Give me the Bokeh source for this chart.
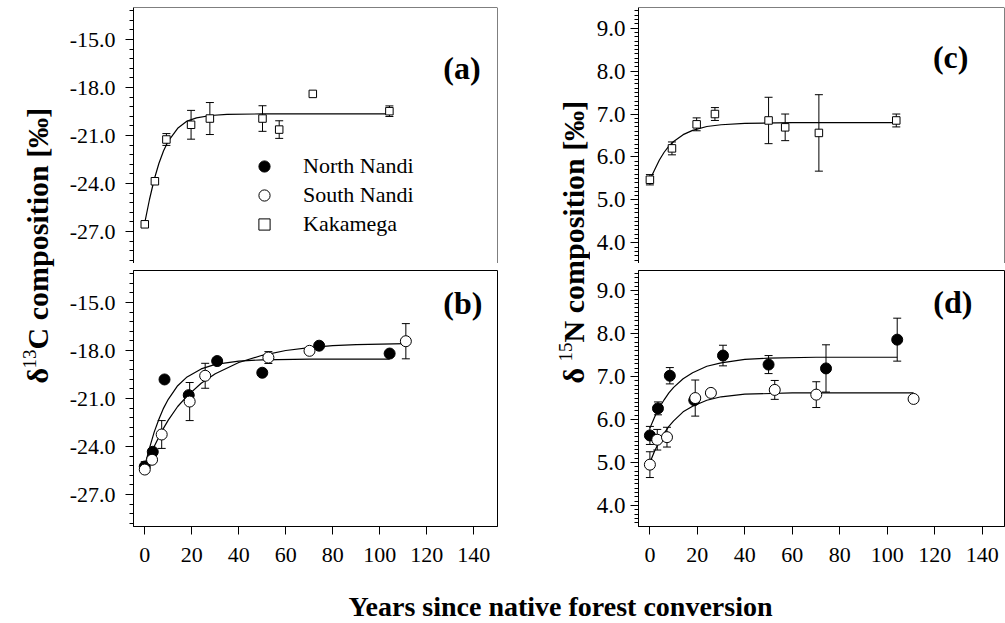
import numpy as np
from bokeh.plotting import figure
from bokeh.models import (Range1d, FixedTicker, NumeralTickFormatter, Whisker, TeeHead,
                          ColumnDataSource, Label, Legend, LegendItem, Span)
from bokeh.layouts import row, column
from bokeh.embed import file_html
from bokeh.resources import INLINE

SERIF = "Liberation Serif"

# ---------------- data ----------------
# Panel (a): Kakamega, delta13C
kak_c_years = [0, 4.3, 9.2, 19.7, 27.7, 50.1, 57.2, 71.5, 104.1]
kak_d13c = [-26.55, -23.86, -21.25, -20.33, -19.94, -19.94, -20.63, -18.4, -19.48]
kak_d13c_err = [0, 0, 0.37, 0.9, 1.0, 0.8, 0.55, 0, 0.33]
kak_d13c_fit_x = [0, 2, 4, 6, 8, 10, 14, 18, 22, 28, 35, 50, 104.1]
kak_d13c_fit_y = [-26.45, -25.0, -23.75, -22.75, -21.95, -21.35, -20.55, -20.1, -19.9,
                  -19.75, -19.68, -19.65, -19.65]

# Panel (b): North Nandi / South Nandi, delta13C
nn_years = [0, 3.4, 8.4, 18.7, 30.8, 50.0, 74.2, 104.2]
nn_d13c = [-25.25, -24.33, -19.81, -20.79, -18.66, -19.39, -17.7, -18.19]
nn_d13c_err = [0.3, 0, 0, 0, 0, 0, 0, 0]
nn_d13c_fit_x = [0, 2, 4, 6, 8, 10, 14, 18, 24, 30, 40, 50, 70, 104.2]
nn_d13c_fit_y = [-25.2, -24.1, -23.1, -22.3, -21.6, -21.05, -20.2, -19.65, -19.15, -18.87,
                 -18.66, -18.58, -18.54, -18.54]

sn_years = [0, 3.1, 7.2, 19.1, 25.7, 52.6, 70.1, 111.1]
sn_d13c = [-25.44, -24.83, -23.25, -21.19, -19.58, -18.44, -18.02, -17.42]
sn_d13c_err = [0.2, 0, 0.87, 1.19, 0.78, 0.37, 0, 1.1]
sn_d13c_fit_x = [0, 2, 4, 6, 8, 10, 14, 18, 24, 30, 40, 50, 60, 70, 80, 90, 111.1]
sn_d13c_fit_y = [-25.4, -24.7, -24.0, -23.4, -22.85, -22.35, -21.5, -20.85, -20.05, -19.45,
                 -18.75, -18.3, -18.0, -17.82, -17.7, -17.63, -17.57]

# Panel (c): Kakamega, delta15N
kak_n_years = [0, 9.3, 19.7, 27.4, 50.0, 57.0, 71.2, 103.8]
kak_d15n = [5.47, 6.2, 6.76, 7.0, 6.85, 6.69, 6.56, 6.85]
kak_d15n_err = [0.12, 0.15, 0.15, 0.15, 0.54, 0.31, 0.89, 0.15]
kak_d15n_fit_x = [0, 2, 4, 6, 8, 10, 14, 18, 24, 30, 40, 60, 103.8]
kak_d15n_fit_y = [5.47, 5.7, 5.93, 6.11, 6.25, 6.36, 6.52, 6.62, 6.71, 6.75, 6.78, 6.8, 6.8]

# Panel (d): North Nandi / South Nandi, delta15N
nn_d15n = [5.63, 6.26, 7.02, 6.45, 7.49, 7.28, 7.19, 7.86]
nn_d15n_err = [0.21, 0.15, 0.19, 0, 0.24, 0.21, 0.55, 0.5]
nn_d15n_fit_x = [0, 2, 4, 6, 8, 10, 14, 18, 24, 30, 40, 50, 70, 104.2]
nn_d15n_fit_y = [5.8, 6.06, 6.28, 6.46, 6.62, 6.75, 6.95, 7.09, 7.24, 7.32, 7.4, 7.43, 7.45, 7.45]

sn_d15n = [4.95, 5.53, 5.59, 6.5, 6.62, 6.69, 6.58, 6.48]
sn_d15n_err = [0.3, 0.24, 0.23, 0.42, 0.08, 0.22, 0.3, 0]
sn_d15n_fit_x = [0, 2, 4, 6, 8, 10, 14, 18, 24, 30, 40, 60, 111.1]
sn_d15n_fit_y = [5.0, 5.27, 5.49, 5.68, 5.84, 5.97, 6.18, 6.31, 6.45, 6.53, 6.59, 6.62, 6.62]

x_ticks = [0, 20, 40, 60, 80, 100, 120, 140]
c_ticks = [-27, -24, -21, -18, -15]
n_ticks = [4, 5, 6, 7, 8, 9]
series_names = ["North Nandi", "South Nandi", "Kakamega"]
panel_tags = ["(a)", "(b)", "(c)", "(d)"]
x_title = "Years since native forest conversion"

# ---------------- styling helpers ----------------
BOTTOM = 55          # border below the lower panels
TOP_H = 263 + 7 + 256 + BOTTOM
LAB_R_W = 83
RIGHT_LEFT = 48


def make_panel(xr, yr, yticks, yminor, *, left, right, top, bottom, fw, show_x, outline,
               yfont, ystand):
    p = figure(title=None, frame_width=fw, frame_height=256, x_range=xr, y_range=yr,
               min_border_left=left, min_border_right=right, min_border_top=top,
               min_border_bottom=bottom, toolbar_location=None, output_backend="svg",
               x_axis_location="below" if show_x else None,
               background_fill_color="white", border_fill_color="white")
    p.grid.visible = False
    p.outline_line_color = "black" if outline else None
    p.outline_line_width = 1
    ya = p.yaxis[0]
    ya.ticker = FixedTicker(ticks=yticks, minor_ticks=yminor)
    ya.formatter = NumeralTickFormatter(format="0.0")
    axes = [ya]
    if show_x:
        xa = p.xaxis[0]
        xa.ticker = FixedTicker(ticks=x_ticks, minor_ticks=[])
        xa.major_label_standoff = 13
        xa.major_label_text_font_size = "22px"
        axes.append(xa)
    for a in axes:
        a.axis_line_color = "black"
        a.axis_line_width = 1
        a.major_tick_in = 0
        a.major_tick_out = 8
        a.minor_tick_in = 0
        a.minor_tick_out = 4
        a.major_tick_line_color = "black"
        a.minor_tick_line_color = "black"
        a.major_label_text_font = SERIF
        a.major_label_text_color = "black"
    ya.major_label_text_font_size = yfont
    ya.major_label_standoff = ystand
    return p


def add_series(p, xs, ys, errs, fit_x, fit_y, marker, fill, size):
    p.line(fit_x, fit_y, line_color="black", line_width=1.2)
    keep = [i for i, e in enumerate(errs) if e > 0]
    src = ColumnDataSource(dict(
        x=[xs[i] for i in keep],
        upper=[ys[i] + errs[i] for i in keep],
        lower=[ys[i] - errs[i] for i in keep]))
    w = Whisker(source=src, base="x", upper="upper", lower="lower",
                line_color="black", line_width=1,
                upper_head=TeeHead(size=8, line_color="black", line_width=1),
                lower_head=TeeHead(size=8, line_color="black", line_width=1))
    p.add_layout(w)
    return p.scatter(xs, ys, marker=marker, size=size, fill_color=fill,
                     line_color="black", line_width=1)


def tag(p, text, x, y):
    p.add_layout(Label(x=x, y=y, text=text, text_font=SERIF, text_font_style="bold",
                       text_font_size="32px", text_align="right", text_baseline="middle",
                       text_color="black"))


c_minor = list(np.round(np.arange(-28.8, -13.1, 0.6), 2))
n_minor = list(np.round(np.arange(3.6, 9.45, 0.1), 2))

# ---------------- panels ----------------
pa = make_panel(Range1d(-4.8, 150.1), Range1d(-29, -13), c_ticks, c_minor,
                left=71, right=10, top=7, bottom=0, fw=364, show_x=False, outline=False,
                yfont="22px", ystand=10)
pa.add_layout(Span(location=-13, dimension="width", line_color="black", line_width=1))
pa.add_layout(Span(location=150.1, dimension="height", line_color="black", line_width=1))
r_kk = add_series(pa, kak_c_years, kak_d13c, kak_d13c_err, kak_d13c_fit_x, kak_d13c_fit_y,
                  "square", "white", 7.5)
tag(pa, panel_tags[0], 142.9, -16.8)
# legend keys: the Nandi series drawn on a range far outside panel (a)'s frame
pa.extra_y_ranges = {"keys": Range1d(1000, 1001)}
r_nn = pa.scatter(nn_years, nn_d13c, marker="circle", size=11, fill_color="black",
                  line_color="black", y_range_name="keys")
r_sn = pa.scatter(sn_years, sn_d13c, marker="circle", size=11, fill_color="white",
                  line_color="black", y_range_name="keys")
leg = Legend(items=[LegendItem(label=series_names[0], renderers=[r_nn], index=0),
                    LegendItem(label=series_names[1], renderers=[r_sn], index=0),
                    LegendItem(label=series_names[2], renderers=[r_kk], index=0)],
             location=(116, 25), border_line_color=None, background_fill_alpha=0,
             label_text_font=SERIF, label_text_font_size="22px", label_text_color="black",
             glyph_width=30, glyph_height=28, label_height=28, spacing=1, padding=0,
             margin=0, label_standoff=24)
pa.add_layout(leg)

pb = make_panel(Range1d(-4.8, 150.1), Range1d(-29, -13), c_ticks, c_minor,
                left=71, right=10, top=7, bottom=BOTTOM, fw=364, show_x=True, outline=True,
                yfont="22px", ystand=10)
add_series(pb, nn_years, nn_d13c, nn_d13c_err, nn_d13c_fit_x, nn_d13c_fit_y,
           "circle", "black", 11)
add_series(pb, sn_years, sn_d13c, sn_d13c_err, sn_d13c_fit_x, sn_d13c_fit_y,
           "circle", "white", 11)
tag(pb, panel_tags[1], 143.7, -15.0)

pc = make_panel(Range1d(-4.8, 149.4), Range1d(3.52, 9.48), n_ticks, n_minor,
                left=RIGHT_LEFT, right=1, top=7, bottom=0, fw=366, show_x=False,
                outline=False, yfont="23px", ystand=5)
pc.add_layout(Span(location=9.48, dimension="width", line_color="black", line_width=1))
pc.add_layout(Span(location=149.4, dimension="height", line_color="black", line_width=1))
add_series(pc, kak_n_years, kak_d15n, kak_d15n_err, kak_d15n_fit_x, kak_d15n_fit_y,
           "square", "white", 7.5)
tag(pc, panel_tags[2], 134.2, 8.32)

pd = make_panel(Range1d(-4.8, 149.4), Range1d(3.51, 9.47), n_ticks, n_minor,
                left=RIGHT_LEFT, right=1, top=7, bottom=BOTTOM, fw=366, show_x=True,
                outline=True, yfont="23px", ystand=5)
add_series(pd, nn_years, nn_d15n, nn_d15n_err, nn_d15n_fit_x, nn_d15n_fit_y,
           "circle", "black", 11)
add_series(pd, sn_years, sn_d15n, sn_d15n_err, sn_d15n_fit_x, sn_d15n_fit_y,
           "circle", "white", 11)
tag(pd, panel_tags[3], 135.9, 8.74)


# ---------------- axis titles ----------------
def blank(w, h):
    f = figure(title=None, width=w, height=h, x_range=Range1d(0, w), y_range=Range1d(0, h),
               min_border=0, toolbar_location=None, output_backend="svg",
               x_axis_location=None, y_axis_location=None, outline_line_color=None,
               background_fill_color="white", border_fill_color="white")
    f.grid.visible = False
    return f


def vlabel(f, x_mid, y0, first, sup, rest, w_first):
    big = 30
    f.add_layout(Label(x=x_mid, y=y0, text=first, angle=np.pi / 2, text_font=SERIF,
                       text_font_style="bold", text_font_size=f"{big}px",
                       text_align="left", text_baseline="middle", text_color="black"))
    f.add_layout(Label(x=x_mid - 8, y=y0 + w_first, text=sup, angle=np.pi / 2,
                       text_font=SERIF, text_font_size="19px", text_align="left",
                       text_baseline="middle", text_color="black"))
    f.add_layout(Label(x=x_mid, y=y0 + w_first + 19, text=rest, angle=np.pi / 2,
                       text_font=SERIF, text_font_style="bold", text_font_size=f"{big}px",
                       text_align="left", text_baseline="middle", text_color="black"))


lab_l = blank(62, TOP_H)
vlabel(lab_l, 37, TOP_H - 383, "δ", "13", "C composition [‰]", 15)
lab_r = blank(LAB_R_W, TOP_H)
vlabel(lab_r, 66, TOP_H - 383, "δ", "15", "N composition [‰]", 22)

XL_H = 623 - TOP_H
xlab = blank(1005, XL_H)
# text centre (middle of the em box) at screen y = 606
xlab.add_layout(Label(x=560, y=XL_H - (606 - TOP_H), text=x_title, text_font=SERIF,
                      text_font_style="bold", text_font_size="28px", text_align="center",
                      text_baseline="middle", text_color="black"))

layout = column(row(lab_l, column(pa, pb), lab_r, column(pc, pd)), xlab)

open("out.html", "w").write(file_html(layout, INLINE))
